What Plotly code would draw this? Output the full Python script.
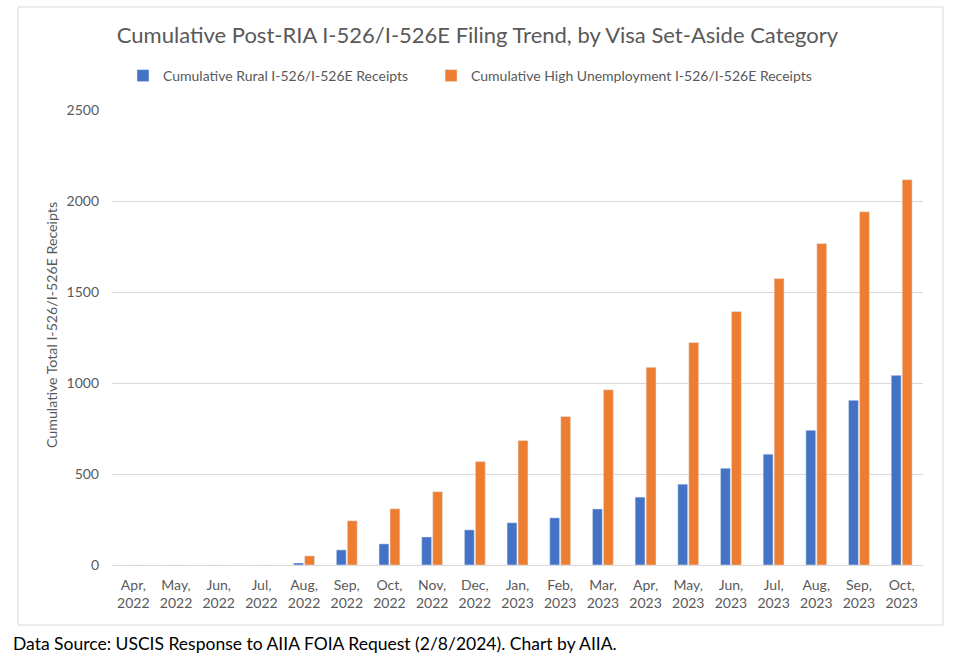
import plotly.graph_objects as go

months = ["Apr,<br>2022", "May,<br>2022", "Jun,<br>2022", "Jul,<br>2022", "Aug,<br>2022",
          "Sep,<br>2022", "Oct,<br>2022", "Nov,<br>2022", "Dec,<br>2022", "Jan,<br>2023",
          "Feb,<br>2023", "Mar,<br>2023", "Apr,<br>2023", "May,<br>2023", "Jun,<br>2023",
          "Jul,<br>2023", "Aug,<br>2023", "Sep,<br>2023", "Oct,<br>2023"]
rural = [0, 0, 0, 0, 11, 83, 116, 154, 193, 232, 259, 308, 373, 444, 532, 609, 740, 905, 1042]
high_unemp = [0, 0, 0, 0, 50, 243, 309, 403, 568, 684, 816, 963, 1086, 1223, 1393, 1574, 1766, 1941, 2117]

FONT = "Lato, Liberation Sans, sans-serif"
GREY = "#595959"

fig = go.Figure()
fig.add_trace(go.Bar(x=months, y=rural,
                     name="Cumulative Rural I-526/I-526E Receipts" + "\u00a0" * 5,
                     marker_color="#4472C4"))
fig.add_trace(go.Bar(x=months, y=high_unemp,
                     name="Cumulative High Unemployment I-526/I-526E Receipts",
                     marker_color="#ED7D31"))

L, R, T, B = 112, 32, 110, 105
W, H = 955, 670
pw, ph = W - L - R, H - T - B

def px_x(x):
    return (x - L) / pw

def px_y(y):
    return (H - B - y) / ph

fig.update_layout(
    width=W, height=H,
    margin=dict(l=L, r=R, t=T, b=B),
    paper_bgcolor="white", plot_bgcolor="white",
    font=dict(family=FONT, color=GREY, size=14),
    title=dict(text="Cumulative Post-RIA I-526/I-526E Filing Trend, by Visa Set-Aside Category",
               x=0.5, xanchor="center", y=1 - 35 / H, yanchor="middle",
               font=dict(family=FONT, size=22, color=GREY)),
    barmode="group", bargap=0.485, bargroupgap=0.1,
    legend=dict(orientation="h", x=px_x(123), xanchor="left", y=px_y(76), yanchor="middle",
                font=dict(family=FONT, size=14, color=GREY), itemwidth=30,
                traceorder="normal"),
    xaxis=dict(showgrid=False, showline=True, linecolor="#d9d9d9", linewidth=1,
               ticks="", ticklabelstandoff=7,
               tickfont=dict(family=FONT, size=14, color=GREY)),
    yaxis=dict(range=[0, 2500], dtick=500, showgrid=True, gridcolor="#d9d9d9", gridwidth=1,
               zeroline=False, showline=False, ticks="", ticklabelstandoff=12,
               tickfont=dict(family=FONT, size=14, color=GREY)),
    shapes=[dict(type="rect", xref="paper", yref="paper",
                 x0=px_x(18), x1=px_x(943), y0=px_y(625), y1=px_y(7),
                 line=dict(color="#d9d9d9", width=1), fillcolor="rgba(0,0,0,0)", layer="below")],
    annotations=[
        dict(text="Data Source: USCIS Response to AIIA FOIA Request (2/8/2024). Chart by AIIA.",
             xref="paper", yref="paper", x=px_x(11), y=px_y(643),
             xanchor="left", yanchor="middle", showarrow=False,
             font=dict(family=FONT, size=17.5, color="black")),
        dict(text="Cumulative Total I-526/I-526E Receipts",
             xref="paper", yref="paper", x=px_x(51), y=px_y(325),
             xanchor="center", yanchor="middle", textangle=-90, showarrow=False,
             font=dict(family=FONT, size=14.2, color=GREY)),
    ],
)

fig.write_html("out.html", config={"displayModeBar": False},
               post_script="document.body.style.margin='0px';")
